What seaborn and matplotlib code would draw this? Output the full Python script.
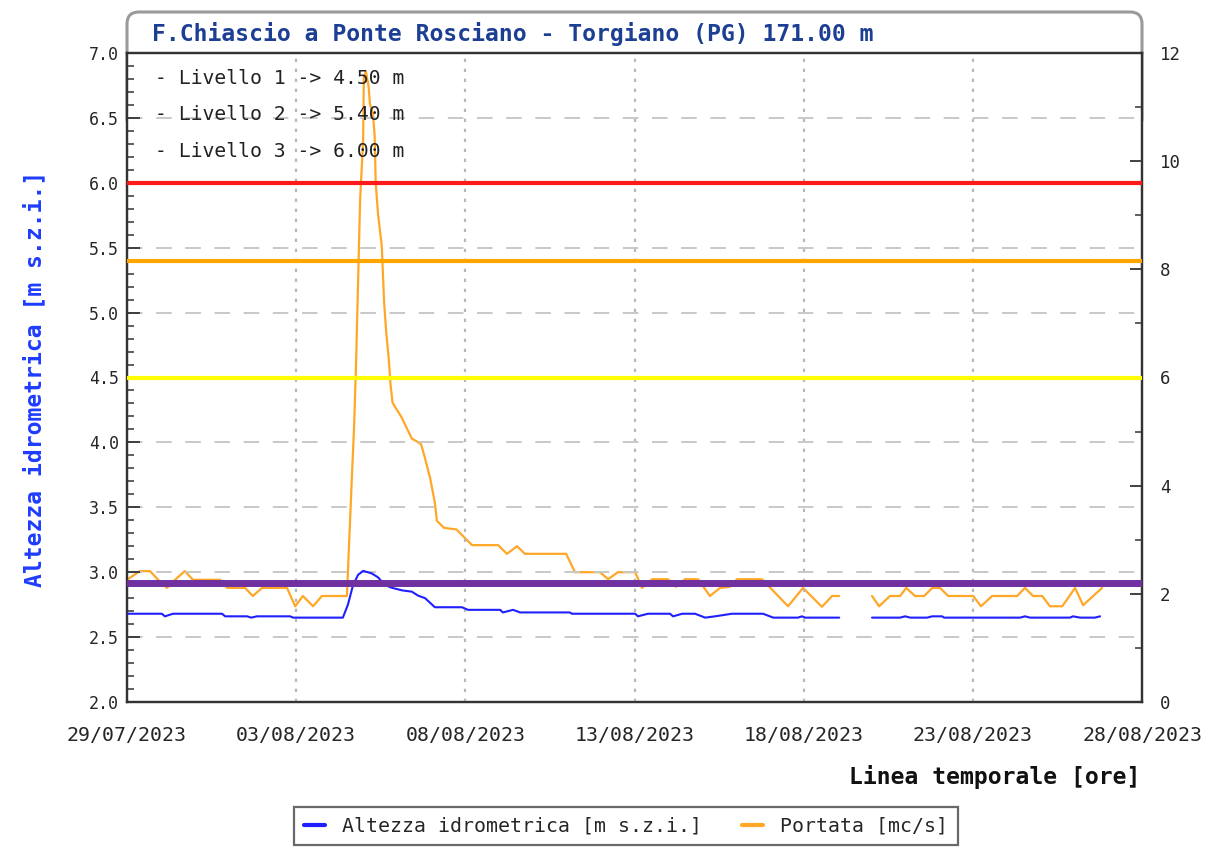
import numpy as np
import pandas as pd
import matplotlib
matplotlib.use("Agg")
import matplotlib.pyplot as plt
import matplotlib.dates as mdates
from matplotlib.ticker import MultipleLocator
from matplotlib.patches import FancyBboxPatch
from matplotlib.lines import Line2D
import seaborn as sns

# ---------------- data ----------------
START = "2023-07-29 00:00"
title = "F.Chiascio a Ponte Rosciano - Torgiano (PG) 171.00 m"

# days since START, water level [m s.z.i.] (nan = missing data)
level_day = [0.00, 1.03, 1.12, 1.36, 2.81, 2.90, 3.55, 3.67, 3.84, 4.82,
             4.91, 6.38, 6.53, 6.68, 6.83, 6.98, 7.24, 7.42, 7.63, 7.83,
             8.13, 8.42, 8.60, 8.81, 9.10, 9.90, 10.08, 11.03, 11.11, 11.41,
             11.62, 13.09, 13.15, 15.02, 15.10, 15.40, 16.05, 16.14, 16.41, 16.79,
             17.09, 17.38, 17.88, 18.80, 19.10, 19.83, 19.95, 20.04, 21.05, 21.50,
             22.02, 22.85, 23.00, 23.15, 23.65, 23.80, 24.09, 24.15, 26.40, 26.54,
             26.69, 27.87, 27.96, 28.17, 28.61, 28.76]
level_val = [2.68, 2.68, 2.66, 2.68, 2.68, 2.66, 2.66, 2.65, 2.66, 2.66,
             2.65, 2.65, 2.75, 2.90, 2.98, 3.01, 2.99, 2.96, 2.90, 2.88,
             2.86, 2.85, 2.82, 2.80, 2.73, 2.73, 2.71, 2.71, 2.69, 2.71,
             2.69, 2.69, 2.68, 2.68, 2.66, 2.68, 2.68, 2.66, 2.68, 2.68,
             2.65, 2.66, 2.68, 2.68, 2.65, 2.65, 2.66, 2.65, 2.65, np.nan,
             2.65, 2.65, 2.66, 2.65, 2.65, 2.66, 2.66, 2.65, 2.65, 2.66,
             2.65, 2.65, 2.66, 2.65, 2.65, 2.66]

# days since START, discharge [mc/s]
flow_day = [0.00, 0.38, 0.68, 0.92, 1.18, 1.42, 1.71, 1.95, 2.75, 2.96,
            3.49, 3.72, 3.99, 4.73, 4.97, 5.20, 5.50, 5.76, 6.50, 6.65,
            6.71, 6.77, 6.83, 6.89, 6.98, 7.00, 7.06, 7.14, 7.18, 7.27,
            7.32, 7.35, 7.42, 7.53, 7.60, 7.66, 7.74, 7.79, 7.85, 8.11,
            8.42, 8.69, 8.79, 8.96, 9.10, 9.16, 9.37, 9.74, 9.99, 10.20,
            10.97, 11.23, 11.53, 11.76, 12.98, 13.24, 13.98, 14.22, 14.51, 15.02,
            15.22, 15.52, 15.99, 16.23, 16.49, 16.88, 17.23, 17.53, 17.82, 18.03,
            18.77, 19.54, 19.98, 20.54, 20.84, 21.05, 21.50, 22.02, 22.23, 22.55,
            22.85, 23.03, 23.29, 23.56, 23.80, 24.03, 24.27, 25.01, 25.24, 25.57,
            26.31, 26.54, 26.78, 27.05, 27.28, 27.64, 27.79, 28.02, 28.26, 28.82]
flow_val = [2.26, 2.42, 2.42, 2.26, 2.11, 2.26, 2.42, 2.26, 2.26, 2.11,
            2.11, 1.96, 2.11, 2.11, 1.77, 1.96, 1.77, 1.96, 1.96, 4.21,
            5.06, 6.25, 7.77, 9.28, 10.40, 11.56, 11.66, 11.39, 11.06, 10.87,
            10.47, 9.61, 9.02, 8.43, 7.38, 6.85, 6.32, 5.86, 5.53, 5.27,
            4.87, 4.77, 4.55, 4.14, 3.68, 3.35, 3.22, 3.19, 3.03, 2.90,
            2.90, 2.74, 2.88, 2.74, 2.74, 2.40, 2.40, 2.27, 2.40, 2.40,
            2.11, 2.27, 2.27, 2.13, 2.27, 2.27, 1.96, 2.11, 2.13, 2.27,
            2.27, 1.77, 2.11, 1.76, 1.96, 1.96, np.nan, 1.96, 1.77, 1.96,
            1.96, 2.11, 1.96, 1.96, 2.11, 2.11, 1.96, 1.96, 1.77, 1.96,
            1.96, 2.11, 1.96, 1.96, 1.77, 1.77, 1.90, 2.11, 1.79, 2.11]

threshold_names = ["Livello 1", "Livello 2", "Livello 3"]
threshold_values = [4.50, 5.40, 6.00]
threshold_colors = ["#ffff00", "#ffa500", "#ff1a1a"]
reference_level = 2.915
reference_color = "#7030a0"

xtick_labels = ["29/07/2023", "03/08/2023", "08/08/2023", "13/08/2023",
                "18/08/2023", "23/08/2023", "28/08/2023"]
level_ticks = [2.0, 2.5, 3.0, 3.5, 4.0, 4.5, 5.0, 5.5, 6.0, 6.5, 7.0]
flow_ticks = [0, 2, 4, 6, 8, 10, 12]

series_names = ["Altezza idrometrica [m s.z.i.]", "Portata [mc/s]"]
level_color = "#1f1fff"
flow_color = "#ffa726"


def make_df(days, vals, name):
    d = pd.DataFrame({"day": days, name: vals})
    d["seg"] = d[name].isna().cumsum()
    d = d.dropna()
    d["time"] = pd.Timestamp(START) + pd.to_timedelta(d["day"], unit="D")
    return d


level_df = make_df(level_day, level_val, "level")
flow_df = make_df(flow_day, flow_val, "flow")

# ---------------- style ----------------
sns.set_style("white")
plt.rcParams["font.family"] = ["DejaVu Sans Mono"]

W, H = 12.07, 8.48
fig = plt.figure(figsize=(W, H), dpi=100)
fig.patch.set_facecolor("white")

L, R, T, B = 127, 1142, 53, 702
ax = fig.add_axes([L / 1207, 1 - B / 848, (R - L) / 1207, (B - T) / 848])
ax2 = ax.twinx()
ax.set_zorder(ax2.get_zorder() + 1)
ax.patch.set_visible(False)
ax2.patch.set_visible(True)
ax2.patch.set_facecolor("white")

# title box with rounded top corners
box = FancyBboxPatch((L / 100, H - 1.30), (R - L) / 100, 1.30 - 0.12,
                     boxstyle="round,pad=0,rounding_size=0.12",
                     transform=fig.dpi_scale_trans, facecolor="white",
                     edgecolor="#9a9a9a", linewidth=2.2, zorder=-1)
fig.add_artist(box)
fig.text(152 / 1207, 1 - 34 / 848, title, color="#1c3f94", fontsize=16.6,
         fontweight="bold", ha="left", va="center")

# series
sns.lineplot(data=flow_df, x="time", y="flow", units="seg", estimator=None,
             color=flow_color, lw=1.6, ax=ax2, legend=False, zorder=3)
sns.lineplot(data=level_df, x="time", y="level", units="seg", estimator=None,
             color=level_color, lw=1.5, ax=ax, legend=False, zorder=3)

# thresholds
for v, c in zip(threshold_values, threshold_colors):
    ax.axhline(v, color=c, lw=3.0, zorder=4)
ax.axhline(reference_level, color=reference_color, lw=5.0, zorder=4)

for i, (n, v) in enumerate(zip(threshold_names, threshold_values)):
    ax.text(0.0276, 0.961 - i * 0.0565, f"- {n} -> {v:.2f} m",
            transform=ax.transAxes, fontsize=14.2, color="#222222",
            ha="left", va="center", zorder=6)

# axes limits / ticks
tick_dates = pd.to_datetime(xtick_labels, format="%d/%m/%Y")
ax.set_xlim(tick_dates[0], tick_dates[-1])
ax.set_xticks(tick_dates)
ax.set_xticklabels(xtick_labels)
ax.xaxis.set_minor_locator(mdates.DayLocator())

ax.set_ylim(level_ticks[0], level_ticks[-1])
ax.set_yticks(level_ticks)
ax.set_yticklabels([f"{t:.1f}" for t in level_ticks])
ax.yaxis.set_minor_locator(MultipleLocator(0.1))

ax2.set_ylim(flow_ticks[0], flow_ticks[-1])
ax2.set_yticks(flow_ticks)
ax2.set_yticklabels([str(t) for t in flow_ticks])
ax2.yaxis.set_minor_locator(MultipleLocator(1))

ax.set_xlabel("")
ax.set_ylabel("")
ax2.set_ylabel("")

ax.grid(axis="y", which="major", linestyle=(0, (8, 7)), color="#c8c8c8", lw=1.4)
ax.grid(axis="x", which="major", linestyle=(0, (1.5, 3)), color="#b8b8b8", lw=1.6)

ax.tick_params(axis="x", which="major", direction="in", length=9, width=1.3,
               labelsize=14.3, pad=17, color="#333333")
ax.tick_params(axis="x", which="minor", direction="in", length=5, width=1.1,
               color="#333333")
ax.tick_params(axis="y", which="major", direction="in", length=9, width=1.3,
               labelsize=12, pad=6, color="#333333")
ax.tick_params(axis="y", which="minor", direction="in", length=5, width=1.1,
               color="#333333")
ax2.tick_params(axis="y", which="major", direction="in", length=9, width=1.3,
                labelsize=12.5, pad=13, color="#333333")
ax2.tick_params(axis="y", which="minor", direction="in", length=5, width=1.1,
                color="#333333")

for a in (ax, ax2):
    for s in a.spines.values():
        s.set_color("#333333")
        s.set_linewidth(1.6)
        s.set_visible(True)

# axis titles
fig.text(35 / 1207, 1 - 379 / 848, series_names[0], rotation=90, color="#1e3cff",
         fontsize=16.6, fontweight="bold", ha="center", va="center")
fig.text(1140 / 1207, 1 - 777 / 848, "Linea temporale [ore]", color="#111111",
         fontsize=16.6, fontweight="bold", ha="right", va="center")

# legend
handles = [Line2D([], [], color=level_color, lw=3),
           Line2D([], [], color=flow_color, lw=3)]
leg = fig.legend(handles, series_names, loc="center",
                 bbox_to_anchor=(626 / 1207, 1 - 826 / 848), ncol=2,
                 fontsize=14.3, frameon=True, fancybox=False,
                 handlelength=1.05, handletextpad=0.85, columnspacing=2.0,
                 borderpad=0.5, borderaxespad=0)
leg.get_frame().set_edgecolor("#444444")
leg.get_frame().set_linewidth(1.6)
leg.get_frame().set_facecolor("white")

fig.savefig("out.png", dpi=100)
